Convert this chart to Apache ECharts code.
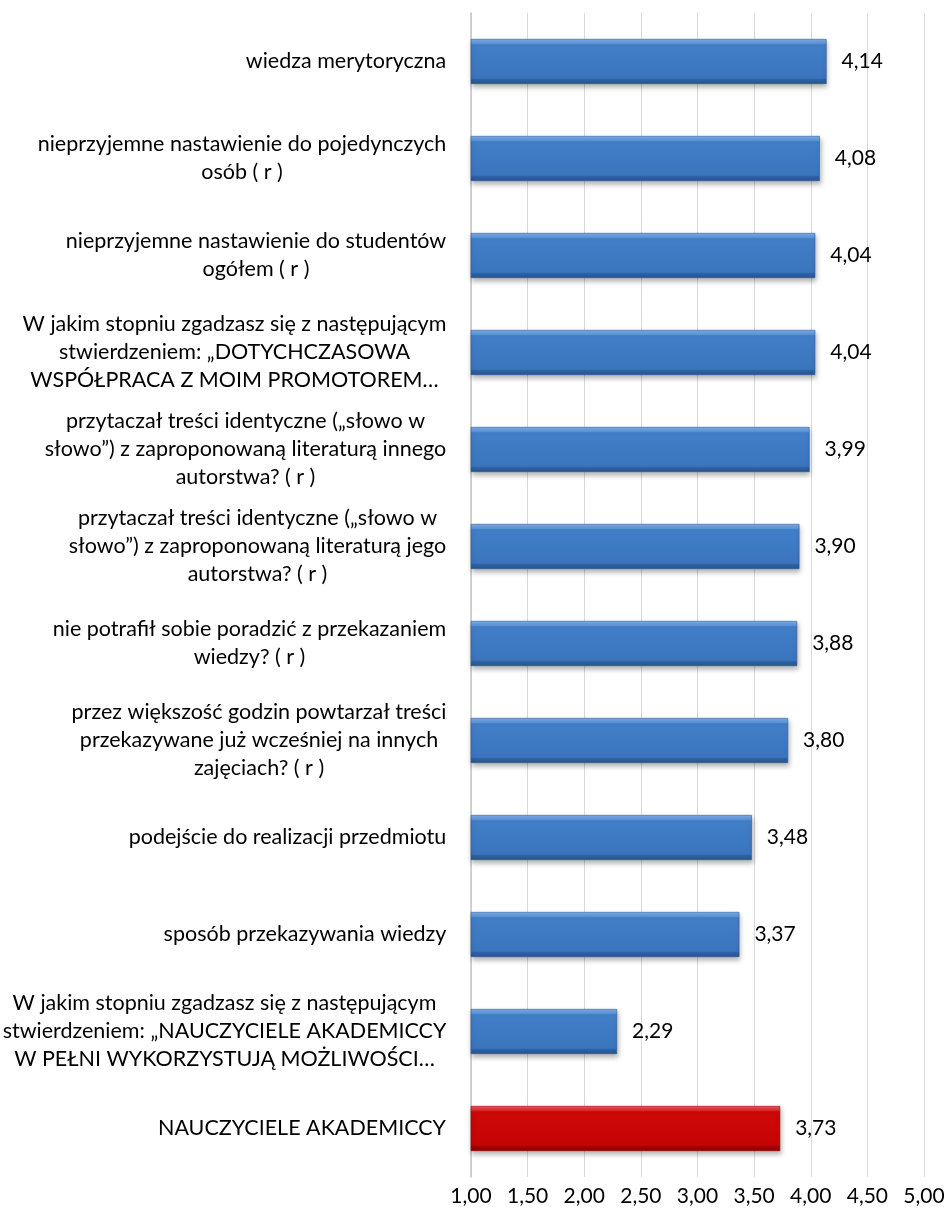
<!DOCTYPE html>
<html>
<head>
<meta charset="utf-8">
<script src="https://cdn.jsdelivr.net/npm/echarts@6/dist/echarts.min.js"></script>
<style>
  html, body { margin: 0; padding: 0; background: #fff; }
  #chart { width: 948px; height: 1219px; }
</style>
</head>
<body>
<div id="chart"></div>
<script>
var categories = [
  "wiedza merytoryczna",
  "nieprzyjemne nastawienie do pojedynczych\nosób ( r )",
  "nieprzyjemne nastawienie do studentów\nogółem ( r )",
  "W jakim stopniu zgadzasz się z następującym\nstwierdzeniem: „DOTYCHCZASOWA\nWSPÓŁPRACA Z MOIM PROMOTOREM…",
  "przytaczał treści identyczne („słowo w\nsłowo”) z zaproponowaną literaturą innego\nautorstwa? ( r )",
  "przytaczał treści identyczne („słowo w\nsłowo”) z zaproponowaną literaturą jego\nautorstwa? ( r )",
  "nie potrafił sobie poradzić z przekazaniem\nwiedzy? ( r )",
  "przez większość godzin powtarzał treści\nprzekazywane już wcześniej na innych\nzajęciach? ( r )",
  "podejście do realizacji przedmiotu",
  "sposób przekazywania wiedzy",
  "W jakim stopniu zgadzasz się z następującym\nstwierdzeniem: „NAUCZYCIELE AKADEMICCY\nW PEŁNI WYKORZYSTUJĄ MOŻLIWOŚCI…",
  "NAUCZYCIELE AKADEMICCY"
];
var values = [4.14, 4.08, 4.04, 4.04, 3.99, 3.90, 3.88, 3.80, 3.48, 3.37, 2.29, 3.73];
var highlightIndex = [11];
var axisMin = 1.0, axisMax = 5.0, axisStep = 0.5;

var FONT = 'Lato';
var FS_CAT = 21.5;
var FS_NUM = 21;

function fmt(v) { return v.toFixed(2).replace('.', ','); }

var ctx = document.createElement('canvas').getContext('2d');
ctx.font = FS_CAT + 'px ' + FONT;
var rich = {};
categories.forEach(function (c, i) {
  var w = 0;
  c.split('\n').forEach(function (l) { w = Math.max(w, ctx.measureText(l).width); });
  rich['c' + i] = { width: Math.ceil(w) + 1, align: 'center', fontFamily: FONT, fontSize: FS_CAT, lineHeight: 28, color: '#000' };
});

function grad(isRed) {
  var stops = isRed ? [
    [0, '#f27070'], [0.03, '#e84a4a'], [0.11, '#dc2424'], [0.125, '#cc0808'], [0.5, '#ca0606'], [0.875, '#c40404'], [0.89, '#a80202'], [1, '#880000']
  ] : [
    [0, '#8cbaee'], [0.03, '#72a6e6'], [0.11, '#5a93da'], [0.125, '#427fc8'], [0.5, '#3e7ac4'], [0.875, '#3a74bd'], [0.89, '#3064a6'], [1, '#27548c']
  ];
  return new echarts.graphic.LinearGradient(0, 0, 0, 1, stops.map(function (s) { return { offset: s[0], color: s[1] }; }));
}

var data = values.map(function (v, i) {
  var red = highlightIndex.indexOf(i) >= 0;
  return {
    value: v,
    itemStyle: {
      color: grad(red),
      borderColor: red ? '#9a0000' : '#2d5c99',
      borderWidth: 0.6,
      shadowColor: 'rgba(0,0,0,0.3)',
      shadowBlur: 5,
      shadowOffsetY: 3,
      shadowOffsetX: 1
    }
  };
});

var chart = echarts.init(document.getElementById('chart'), null, { renderer: 'canvas' });
chart.setOption({
  backgroundColor: '#ffffff',
  animation: false,
  grid: { left: 471, right: 24, top: 13, bottom: 42, containLabel: false, outerBoundsMode: 'none' },
  xAxis: {
    type: 'value',
    min: axisMin, max: axisMax, interval: axisStep,
    axisLine: { show: false },
    axisTick: { show: false },
    splitLine: { show: true, lineStyle: { color: '#d9d9d9', width: 1 } },
    axisLabel: { formatter: fmt, fontFamily: FONT, fontSize: FS_NUM, color: '#000', margin: 9 }
  },
  yAxis: {
    type: 'category',
    inverse: true,
    data: categories,
    axisLine: { show: true, lineStyle: { color: '#c6c6c6', width: 1.5 } },
    axisTick: { show: false },
    axisLabel: {
      margin: 24,
      formatter: function (value, index) {
        return value.split('\n').map(function (l) { return '{c' + index + '|' + l + '}'; }).join('\n');
      },
      rich: rich
    }
  },
  series: [{
    type: 'bar',
    data: data,
    barWidth: 45,
    label: {
      show: true, position: 'right', distance: 15,
      formatter: function (p) { return fmt(p.value); },
      fontFamily: FONT, fontSize: FS_NUM, color: '#000'
    }
  }]
});
</script>
</body>
</html>
